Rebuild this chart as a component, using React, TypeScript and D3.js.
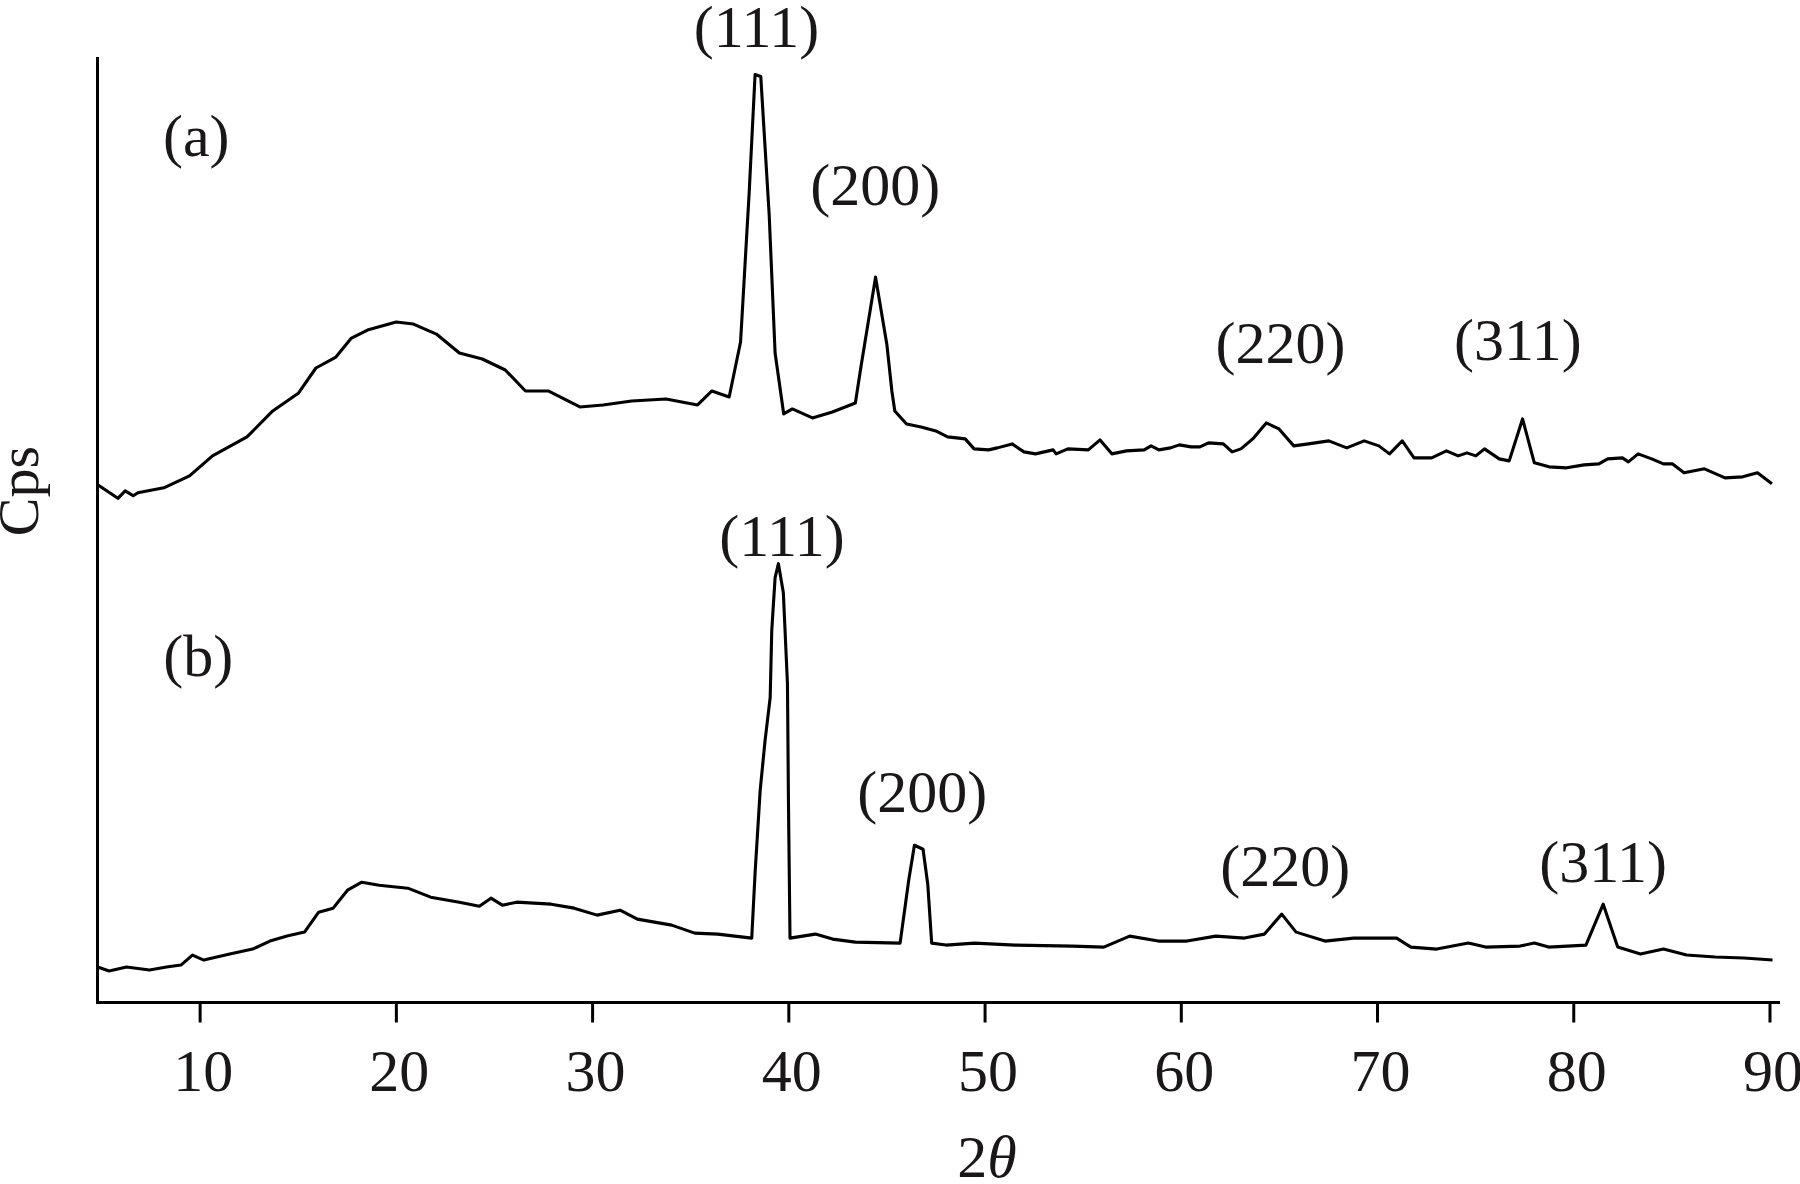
import React from "react";
import * as d3 from "d3";

// 2θ (degrees) and intensity (arbitrary cps, with offset) for pattern (a)
const patternA: [number, number][] = [
  [4.78, 517], [5.81, 503.5], [6.18, 511], [6.59, 506], [6.83, 509], [8.15, 514], [9.46, 526],
  [10.63, 546], [12.39, 565], [13.7, 591], [15.02, 609], [15.9, 634], [16.92, 645], [17.71, 664],
  [18.53, 672], [19.99, 680], [20.87, 678], [22.04, 668], [23.21, 649], [24.38, 643], [25.55, 632],
  [26.58, 611], [27.74, 611], [29.35, 595], [30.53, 597], [31.99, 601], [33.74, 603], [35.35, 597],
  [36.08, 611], [36.96, 605], [37.54, 660], [37.98, 810], [38.28, 928], [38.57, 926], [39.0, 787],
  [39.3, 649], [39.74, 588], [40.18, 593], [41.2, 584], [42.22, 590], [43.39, 599], [43.69, 637],
  [44.42, 725], [45.0, 657], [45.25, 611], [45.4, 591], [46.0, 578], [46.74, 575], [47.49, 571],
  [48.09, 565], [48.99, 563], [49.44, 553], [50.18, 552], [50.63, 554], [51.38, 558], [51.98, 550],
  [52.57, 548], [53.47, 552], [53.62, 548], [54.22, 553], [55.26, 552], [55.86, 562], [56.46, 548],
  [57.21, 551], [58.11, 552], [58.46, 556], [58.86, 552], [59.45, 554], [59.9, 557], [60.5, 555],
  [60.95, 555], [61.39, 559], [62.14, 558], [62.59, 550], [63.04, 553], [63.64, 563], [64.33, 579],
  [64.98, 573], [65.73, 556], [66.48, 558], [67.52, 561], [68.43, 554], [69.32, 561], [70.07, 556],
  [70.61, 548], [71.26, 561], [71.86, 544], [72.76, 544], [73.51, 551], [74.11, 546], [74.56, 549],
  [75.01, 546], [75.45, 553], [76.2, 543], [76.71, 541], [77.39, 583], [77.99, 539], [78.74, 535],
  [79.64, 534], [80.53, 537], [81.28, 538], [81.73, 543], [82.48, 544], [82.78, 540], [83.28, 548],
  [83.97, 543], [84.57, 538], [85.02, 538], [85.62, 529], [86.66, 533], [87.71, 524], [88.61, 525],
  [89.36, 529], [90.1, 518],
];

// 2θ (degrees) and intensity for pattern (b)
const patternB: [number, number][] = [
  [4.78, 34], [5.36, 30], [6.25, 34], [7.42, 31], [8.29, 34], [9.02, 36], [9.61, 46], [10.19, 41],
  [11.51, 47], [12.68, 52], [13.56, 60], [14.43, 65], [15.32, 69], [16.04, 89], [16.78, 93],
  [17.51, 111], [18.24, 119], [19.12, 116], [20.58, 113], [21.75, 104], [23.21, 99], [24.23, 95],
  [24.82, 103], [25.4, 96], [26.13, 99], [27.89, 97], [29.06, 93], [30.23, 86], [31.4, 91],
  [32.28, 82], [34.03, 76], [35.2, 68], [36.38, 67], [38.11, 63], [38.28, 128], [38.54, 211],
  [38.79, 261], [39.05, 304], [39.13, 371], [39.3, 424], [39.47, 438], [39.72, 409], [39.93, 318],
  [39.98, 201], [40.06, 63], [41.35, 67], [42.23, 62], [43.39, 59], [45.67, 58], [46.11, 121],
  [46.4, 156], [46.84, 152], [47.08, 117], [47.28, 58], [48.01, 56], [49.47, 58], [51.52, 56],
  [54.44, 55], [56.05, 54], [57.37, 65], [58.83, 60], [60.29, 60], [61.76, 65], [63.22, 63],
  [64.24, 67], [65.12, 87], [65.85, 69], [67.32, 60], [68.78, 63], [69.95, 63], [70.97, 63],
  [71.7, 54], [73.02, 52], [74.63, 58], [75.51, 54], [77.26, 55], [77.99, 58], [78.72, 54],
  [80.62, 56], [81.5, 97], [82.24, 54], [83.4, 47], [84.57, 52], [85.75, 46], [87.21, 44],
  [88.67, 43], [90.13, 41],
];

const xTicks = [10, 20, 30, 40, 50, 60, 70, 80, 90];

// peak labels: [2θ position of label centre, intensity of label baseline, text]
const labelsA: [number, number, string][] = [
  [38.35, 956, "(111)"],
  [44.4, 797, "(200)"],
  [65.05, 639, "(220)"],
  [77.15, 642, "(311)"],
];
const labelsB: [number, number, string][] = [
  [39.65, 446, "(111)"],
  [46.8, 189, "(200)"],
  [65.3, 115, "(220)"],
  [81.5, 119, "(311)"],
];
const panelLabels: [number, number, string][] = [
  [9.8, 846, "(a)"],
  [9.9, 326, "(b)"],
];

const W = 1800;
const H = 1184;
const left = 97.5;
const right = 1780;
const top = 57;
const bottom = 1002.5;
const FONT = "'Liberation Serif', 'DejaVu Serif', serif";
const INK = "#1a1718";

export default function App() {
  const x = d3.scaleLinear().domain([4.77, 90.51]).range([left, right]);
  const y = d3.scaleLinear().domain([0, 945.5]).range([bottom - 1.5, top]);
  const line = d3
    .line<[number, number]>()
    .x((d) => x(d[0]))
    .y((d) => y(d[1]));

  return (
    <svg
      width={W}
      height={H}
      viewBox={`0 0 ${W} ${H}`}
      style={{ position: "absolute", left: 0, top: 0, background: "#fff" }}
    >
      <rect width={W} height={H} fill="#fff" />
      {/* curves */}
      <path d={line(patternA) || ""} fill="none" stroke="#000" strokeWidth={3.1} strokeLinejoin="round" />
      <path d={line(patternB) || ""} fill="none" stroke="#000" strokeWidth={3.1} strokeLinejoin="round" />

      {/* axes */}
      <line x1={left} x2={left} y1={top} y2={bottom + 1.5} stroke="#000" strokeWidth={3} />
      <line x1={left - 1.5} x2={right} y1={bottom} y2={bottom} stroke="#000" strokeWidth={3} />
      {xTicks.map((t) => (
        <g key={t}>
          <line x1={x(t)} x2={x(t)} y1={bottom} y2={bottom + 20} stroke="#000" strokeWidth={3} />
          <text
            x={x(t) + 3}
            y={1091}
            textAnchor="middle"
            fontFamily={FONT}
            fontSize={60}
            fill={INK}
          >
            {t}
          </text>
        </g>
      ))}

      {/* axis titles */}
      <text
        transform={`translate(38, 491) rotate(-90)`}
        textAnchor="middle"
        fontFamily={FONT}
        fontSize={58}
        fill={INK}
      >
        Cps
      </text>
      <text x={987} y={1177} textAnchor="middle" fontFamily={FONT} fontSize={60} fill={INK}>
        2<tspan fontStyle="italic">θ</tspan>
      </text>

      {/* labels */}
      {[...labelsA, ...labelsB, ...panelLabels].map(([t, v, s], i) => (
        <text
          key={i}
          x={x(t)}
          y={y(v)}
          textAnchor="middle"
          fontFamily={FONT}
          fontSize={60}
          fill={INK}
        >
          {s}
        </text>
      ))}
    </svg>
  );
}
